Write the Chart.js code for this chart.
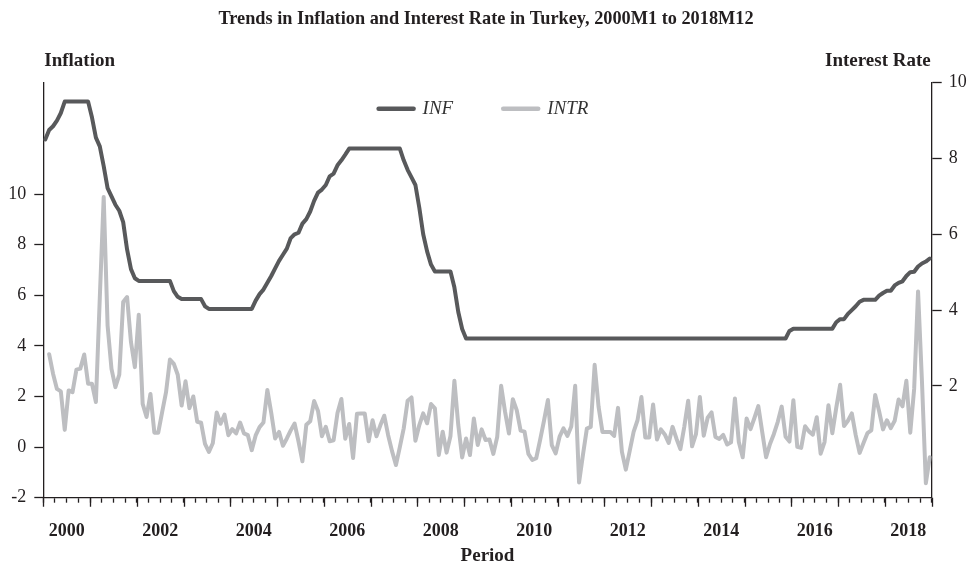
<!DOCTYPE html>
<html lang="en">
<head>
<meta charset="UTF-8">
<title>Trends in Inflation and Interest Rate in Turkey</title>
<script src="https://cdn.jsdelivr.net/npm/chart.js"></script>
<style>
  html, body { margin: 0; padding: 0; background: #fff; }
  #wrap { width: 972px; height: 568px; }
</style>
</head>
<body>
<div id="wrap"><canvas id="chart" width="972" height="568"></canvas></div>
<script>
const startYear = 2000;
const yearLabels = [2000, 2002, 2004, 2006, 2008, 2010, 2012, 2014, 2016, 2018];
const leftTicks = [-2, 0, 2, 4, 6, 8, 10];
const rightTicks = [2, 4, 6, 8, 10];

// dark line (right axis)
const infSeries = [
  8.50, 8.75, 8.85, 9.00, 9.20, 9.50, 9.50, 9.50, 9.50, 9.50, 9.50, 9.50,
  9.08, 8.55, 8.32, 7.80, 7.22, 7.00, 6.78, 6.62, 6.32, 5.60, 5.08, 4.84,
  4.77, 4.77, 4.77, 4.77, 4.77, 4.77, 4.77, 4.77, 4.77, 4.50, 4.35, 4.29,
  4.29, 4.29, 4.29, 4.29, 4.29, 4.10, 4.03, 4.03, 4.03, 4.03, 4.03, 4.03,
  4.03, 4.03, 4.03, 4.03, 4.03, 4.03, 4.25, 4.42, 4.54, 4.72, 4.90, 5.10,
  5.30, 5.46, 5.62, 5.90, 6.00, 6.04, 6.28, 6.40, 6.60, 6.88, 7.10, 7.18,
  7.30, 7.53, 7.60, 7.82, 7.95, 8.10, 8.26, 8.26, 8.26, 8.26, 8.26, 8.26,
  8.26, 8.26, 8.26, 8.26, 8.26, 8.26, 8.26, 8.26, 7.95, 7.70, 7.50, 7.30,
  6.70, 6.00, 5.55, 5.20, 5.02, 5.02, 5.02, 5.02, 5.02, 4.60, 3.95, 3.50,
  3.25, 3.25, 3.25, 3.25, 3.25, 3.25, 3.25, 3.25, 3.25, 3.25, 3.25, 3.25,
  3.25, 3.25, 3.25, 3.25, 3.25, 3.25, 3.25, 3.25, 3.25, 3.25, 3.25, 3.25,
  3.25, 3.25, 3.25, 3.25, 3.25, 3.25, 3.25, 3.25, 3.25, 3.25, 3.25, 3.25,
  3.25, 3.25, 3.25, 3.25, 3.25, 3.25, 3.25, 3.25, 3.25, 3.25, 3.25, 3.25,
  3.25, 3.25, 3.25, 3.25, 3.25, 3.25, 3.25, 3.25, 3.25, 3.25, 3.25, 3.25,
  3.25, 3.25, 3.25, 3.25, 3.25, 3.25, 3.25, 3.25, 3.25, 3.25, 3.25, 3.25,
  3.25, 3.25, 3.25, 3.25, 3.25, 3.25, 3.25, 3.25, 3.25, 3.25, 3.25, 3.45,
  3.51, 3.51, 3.51, 3.51, 3.51, 3.51, 3.51, 3.51, 3.51, 3.51, 3.51, 3.68,
  3.76, 3.76, 3.90, 4.00, 4.10, 4.22, 4.27, 4.27, 4.27, 4.27, 4.38, 4.45,
  4.51, 4.51, 4.65, 4.72, 4.76, 4.90, 5.00, 5.01, 5.15, 5.23, 5.28, 5.36
];

// light line (left axis), first month missing
const intrSeries = [
  null, 3.67, 2.90, 2.30, 2.20, 0.68, 2.24, 2.17, 3.06, 3.10, 3.66, 2.50,
  2.50, 1.78, 5.90, 9.88, 4.80, 3.09, 2.37, 2.86, 5.73, 5.93, 4.15, 3.16,
  5.23, 1.71, 1.19, 2.10, 0.57, 0.57, 1.38, 2.17, 3.46, 3.29, 2.86, 1.64,
  2.60, 1.54, 2.00, 1.00, 0.96, 0.13, -0.19, 0.15, 1.37, 0.92, 1.28, 0.47,
  0.71, 0.54, 0.97, 0.54, 0.47, -0.12, 0.46, 0.79, 0.97, 2.26, 1.35, 0.34,
  0.60, 0.05, 0.34, 0.66, 0.93, 0.22, -0.56, 0.88, 1.02, 1.82, 1.43, 0.43,
  0.80, 0.23, 0.27, 1.35, 1.90, 0.33, 0.91, -0.43, 1.32, 1.33, 1.33, 0.23,
  1.06, 0.43, 0.86, 1.24, 0.47, -0.16, -0.71, 0.00, 0.74, 1.83, 1.96, 0.25,
  0.87, 1.33, 0.94, 1.70, 1.53, -0.31, 0.61, -0.22, 0.44, 2.62, 0.87, -0.41,
  0.34, -0.31, 1.13, 0.08, 0.70, 0.28, 0.30, -0.27, 0.41, 2.42, 1.40, 0.54,
  1.89, 1.46, 0.65, 0.61, -0.27, -0.51, -0.44, 0.28, 1.04, 1.86, 0.08, -0.25,
  0.41, 0.74, 0.44, 0.81, 2.42, -1.40, -0.30, 0.73, 0.80, 3.25, 1.60, 0.60,
  0.60, 0.60, 0.44, 1.55, -0.19, -0.89, -0.15, 0.60, 1.06, 1.98, 0.38, 0.38,
  1.68, 0.30, 0.70, 0.50, 0.16, 0.80, 0.33, -0.08, 0.80, 1.83, 0.03, 0.51,
  1.98, 0.45, 1.16, 1.37, 0.40, 0.32, 0.48, 0.10, 0.19, 1.92, 0.20, -0.40,
  1.13, 0.71, 1.15, 1.62, 0.60, -0.40, 0.12, 0.52, 1.00, 1.60, 0.41, 0.22,
  1.85, 0.01, -0.03, 0.82, 0.62, 0.49, 1.18, -0.26, 0.20, 1.65, 0.55, 1.55,
  2.46, 0.83, 1.04, 1.33, 0.47, -0.23, 0.16, 0.55, 0.66, 2.06, 1.42, 0.70,
  1.06, 0.75, 1.04, 1.88, 1.61, 2.62, 0.57, 2.30, 6.15, 2.60, -1.43, -0.40
];

const months = infSeries.length;
const ink = '#231f20';
const serif = "'Liberation Serif', 'Times New Roman', serif";

Chart.defaults.font.family = serif;
Chart.defaults.color = ink;

// month index -> x position in the middle of the month
function toPoints(values) {
    return values.map((v, i) => ({ x: i + 0.5, y: v }));
}

// captions over the axes, long year ticks and the legend inside the plot
const extras = {
    id: 'extras',
    afterDraw(chart) {
        const { ctx, chartArea, scales } = chart;
        ctx.save();
        ctx.fillStyle = ink;
        ctx.font = 'bold 19px ' + serif;
        ctx.textBaseline = 'alphabetic';
        ctx.textAlign = 'left';
        ctx.fillText('Inflation', chartArea.left + 1, 65.5);
        ctx.textAlign = 'right';
        ctx.fillText('Interest Rate', chartArea.right - 1, 65.5);

        // year ticks are longer than the quarter ticks
        ctx.strokeStyle = ink;
        ctx.lineWidth = 1.3;
        ctx.beginPath();
        for (let m = 0; m <= months; m += 12) {
            const px = Math.round(scales.x.getPixelForValue(m)) + 0.5;
            ctx.moveTo(px, chartArea.bottom);
            ctx.lineTo(px, chartArea.bottom + 9);
        }
        ctx.stroke();

        // legend
        ctx.font = 'italic 19px ' + serif;
        const lineLen = 39, gap = 7, itemGap = 48;
        const items = chart.data.datasets.map(ds => ({
            text: ds.label, color: ds.borderColor, w: ctx.measureText(ds.label).width
        }));
        const total = items.reduce((s, it) => s + lineLen + gap + it.w, 0) + itemGap * (items.length - 1);
        let x = (chartArea.left + chartArea.right) / 2 - total / 2 - 5;
        const y = chartArea.top + 26;
        ctx.textAlign = 'left';
        ctx.textBaseline = 'middle';
        ctx.lineCap = 'round';
        items.forEach(it => {
            ctx.strokeStyle = it.color;
            ctx.lineWidth = 4.5;
            ctx.beginPath();
            ctx.moveTo(x + 2, y);
            ctx.lineTo(x + lineLen - 2, y);
            ctx.stroke();
            ctx.fillStyle = '#333';
            ctx.fillText(it.text, x + lineLen + gap, y);
            x += lineLen + gap + it.w + itemGap;
        });
        ctx.restore();
    }
};

new Chart(document.getElementById('chart'), {
    type: 'line',
    data: {
        datasets: [
            {
                label: 'INF',
                data: toPoints(infSeries),
                yAxisID: 'y1',
                borderColor: '#58595b',
                borderWidth: 4,
                pointRadius: 0,
                borderJoinStyle: 'round',
                borderCapStyle: 'round',
                tension: 0
            },
            {
                label: 'INTR',
                data: toPoints(intrSeries),
                yAxisID: 'y',
                borderColor: '#bdbec1',
                borderWidth: 4,
                pointRadius: 0,
                borderJoinStyle: 'round',
                borderCapStyle: 'round',
                tension: 0
            }
        ]
    },
    options: {
        responsive: false,
        animation: false,
        layout: { padding: 0 },
        plugins: {
            legend: { display: false },
            tooltip: { enabled: false },
            title: {
                display: true,
                text: 'Trends in Inflation and Interest Rate in Turkey, 2000M1 to 2018M12',
                font: { size: 18.3, weight: 'bold' },
                color: ink,
                padding: { top: 8.5, bottom: 52.2 }
            }
        },
        scales: {
            x: {
                type: 'linear',
                min: 0,
                max: months,
                afterBuildTicks(axis) {
                    const t = [];
                    for (let m = 0; m <= months; m += 3) t.push({ value: m });
                    axis.ticks = t;
                },
                afterFit(scale) { scale.height = 70.3; },
                ticks: {
                    autoSkip: false,
                    maxRotation: 0,
                    padding: 18,
                    font: { size: 18, weight: 'bold' },
                    callback(v) {
                        const yr = startYear + (v - 6) / 12;
                        return yearLabels.includes(yr) ? String(yr) : '';
                    }
                },
                grid: { drawOnChartArea: false, tickLength: 5, tickColor: ink, tickWidth: 1.3 },
                border: { color: ink, width: 1.3 },
                title: {
                    display: true,
                    text: 'Period',
                    font: { size: 19, weight: 'bold' },
                    color: ink,
                    padding: { top: 0, bottom: 1 }
                }
            },
            y: {
                position: 'left',
                min: -2,
                max: 14.4,
                afterBuildTicks(axis) { axis.ticks = leftTicks.map(v => ({ value: v })); },
                afterFit(scale) { scale.width = 43.3; },
                ticks: { padding: 8, font: { size: 18 }, callback: v => String(v) },
                grid: { drawOnChartArea: false, tickLength: 9, tickColor: ink, tickWidth: 1.3 },
                border: { color: ink, width: 1.3 }
            },
            y1: {
                position: 'right',
                min: -0.95,
                max: 10,
                afterBuildTicks(axis) { axis.ticks = rightTicks.map(v => ({ value: v })); },
                afterFit(scale) { scale.width = 40.3; },
                ticks: { padding: 7, font: { size: 18 }, callback: v => String(v) },
                grid: { drawOnChartArea: false, tickLength: 10, tickColor: ink, tickWidth: 1.3 },
                border: { color: ink, width: 1.3 }
            }
        }
    },
    plugins: [extras]
});
</script>
</body>
</html>
